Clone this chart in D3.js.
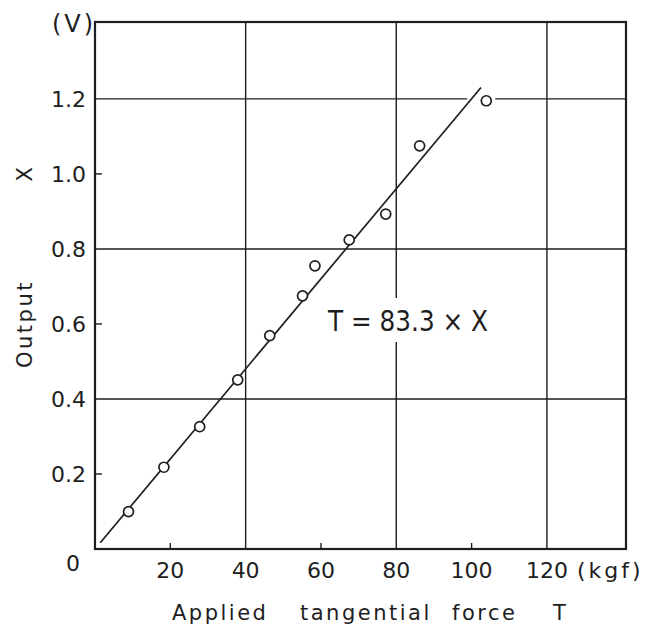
<!DOCTYPE html>
<html>
<head>
<meta charset="utf-8">
<script src="https://cdn.jsdelivr.net/npm/d3@7"></script>
<style>
  html, body { margin: 0; padding: 0; background: #fff; }
  svg { display: block; font-family: "DejaVu Sans", sans-serif; }
</style>
</head>
<body>
<svg id="chart" width="645" height="633"></svg>
<script>
// Measured calibration points: applied tangential force T (kgf) vs output X (V)
const forceT  = [8.9, 18.3, 27.8, 37.9, 46.4, 55.1, 58.4, 67.5, 77.2, 86.2, 103.9];
const outputX = [0.0995, 0.218, 0.326, 0.451, 0.569, 0.675, 0.755, 0.824, 0.893, 1.075, 1.195];

// Fitted relation T = 83.3 × X, drawn over this force range
const fitCoef = 83.3;
const fitRange = [1.4, 102.5];

// Axis ticks: gridlines on the major values, short inner ticks on the minor ones
const xMajor = [40, 80, 120];
const xMinor = [20, 60, 100];
const xLabels = [20, 40, 60, 80, 100, 120];
const yMajor = [0.4, 0.8, 1.2];
const yMinor = [0.2, 0.6, 1.0];
const yLabels = [0.2, 0.4, 0.6, 0.8, 1.0, 1.2];

const ink = "#1e1e1e";
const svg = d3.select("#chart");

const x = d3.scaleLinear().domain([0, 141]).range([95, 626]);
const y = d3.scaleLinear().domain([0, 1.405]).range([549, 22]);
const [x0, x1] = x.range();
const [y0, y1] = y.range();

// Gridlines
const grid = svg.append("g").attr("stroke", ink).attr("stroke-width", 1.4);
grid.selectAll(".vg").data(xMajor).join("line")
  .attr("x1", d => x(d)).attr("x2", d => x(d))
  .attr("y1", y0).attr("y2", y1);
grid.selectAll(".hg").data(yMajor).join("line")
  .attr("x1", x0).attr("x2", x1)
  .attr("y1", d => y(d)).attr("y2", d => y(d));

// Minor inner ticks
grid.selectAll(".vt").data(xMinor).join("line")
  .attr("x1", d => x(d)).attr("x2", d => x(d))
  .attr("y1", y0).attr("y2", y0 - 6);
grid.selectAll(".ht").data(yMinor).join("line")
  .attr("x1", x0).attr("x2", x0 + 7)
  .attr("y1", d => y(d)).attr("y2", d => y(d));

// Break in the 1.2 gridline around the top data point
const lastT = forceT[forceT.length - 1];
svg.append("rect")
  .attr("x", x(lastT) - 19).attr("y", y(1.2) - 3)
  .attr("width", 28).attr("height", 6)
  .attr("fill", "#fff");

// Frame
svg.append("rect")
  .attr("x", x0).attr("y", y1)
  .attr("width", x1 - x0).attr("height", y0 - y1)
  .attr("fill", "none").attr("stroke", ink).attr("stroke-width", 2.2);

// Fitted line
const fitPts = fitRange.map(t => [t, t / fitCoef]);
svg.append("path")
  .attr("d", d3.line().x(d => x(d[0])).y(d => y(d[1]))(fitPts))
  .attr("fill", "none").attr("stroke", ink).attr("stroke-width", 1.7);

// Data points
svg.append("g").selectAll("circle")
  .data(forceT.map((t, i) => [t, outputX[i]]))
  .join("circle")
  .attr("cx", d => x(d[0])).attr("cy", d => y(d[1]))
  .attr("r", 5)
  .attr("fill", "#fff").attr("stroke", ink).attr("stroke-width", 1.7);

// Equation label with the gridline broken behind it
const eqG = svg.append("g");
const eqBg = eqG.append("rect").attr("fill", "#fff");
const eq = eqG.append("text")
  .attr("x", 408).attr("y", 331)
  .attr("text-anchor", "middle")
  .attr("font-size", 29)
  .attr("fill", ink)
  .attr("textLength", 160).attr("lengthAdjust", "spacingAndGlyphs")
  .text(`T = ${fitCoef} × X`);
const bb = eq.node().getBBox();
eqBg.attr("x", bb.x).attr("y", bb.y - 6).attr("width", bb.width).attr("height", bb.height + 10);

// Tick labels
const lab = svg.append("g").attr("fill", ink).attr("font-size", 22);
lab.selectAll(".xl").data(xLabels).join("text")
  .attr("x", d => x(d)).attr("y", 578)
  .attr("text-anchor", "middle")
  .text(d => d);
lab.selectAll(".yl").data(yLabels).join("text")
  .attr("x", 86).attr("y", d => y(d) + 8)
  .attr("text-anchor", "end")
  .text(d => d.toFixed(1));
lab.append("text").attr("x", 73).attr("y", 571).attr("text-anchor", "middle").text("0");

// Units
lab.append("text").attr("x", 577).attr("y", 578)
  .attr("letter-spacing", 3).text("(kgf)");
lab.append("text").attr("x", 74).attr("y", 32)
  .attr("text-anchor", "middle").attr("font-size", 24)
  .attr("letter-spacing", 3).text("(V)");

// Axis titles
const titles = svg.append("g").attr("fill", ink).attr("font-size", 21).attr("letter-spacing", 2.5);
[["Applied", 172], ["tangential", 300], ["force", 452], ["T", 553]].forEach(([w, px]) => {
  titles.append("text").attr("x", px).attr("y", 620).text(w);
});
titles.append("text")
  .attr("transform", "translate(32,324) rotate(-90)")
  .attr("text-anchor", "middle")
  .text("Output");
titles.append("text")
  .attr("transform", "translate(32,173) rotate(-90)")
  .attr("text-anchor", "middle")
  .text("X");
</script>
</body>
</html>
